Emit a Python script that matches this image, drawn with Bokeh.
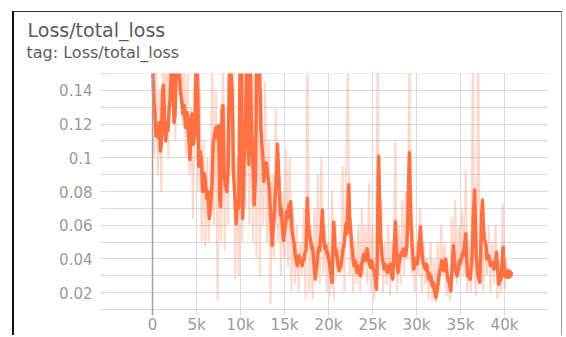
from bokeh.plotting import figure
from bokeh.models import Range1d, FixedTicker, NumeralTickFormatter, Span, Title
from bokeh.embed import file_html
from bokeh.resources import INLINE

# Smoothed total loss
steps = [
    0, 150, 250, 400, 500, 650, 750, 900, 1000, 1150,
    1250, 1400, 1500, 1650, 1750, 1900, 2000, 2150, 2300, 2450,
    2550, 2700, 2850, 3000, 3150, 3300, 3450, 3600, 3750, 3900,
    4000, 4150, 4250, 4400, 4500, 4650, 4800, 4950, 5100, 5250,
    5400, 5550, 5700, 5850, 6000, 6150, 6300, 6450, 6600, 6750,
    6900, 7050, 7200, 7350, 7500, 7650, 7750, 7900, 8000, 8150,
    8300, 8450, 8600, 8750, 8900, 9050, 9200, 9350, 9500, 9650,
    9800, 9950, 10100, 10250, 10400, 10550, 10700, 10850, 10950, 11100,
    11250, 11400, 11550, 11700, 11850, 12000, 12150, 12300, 12450, 12550,
    12650, 12800, 12950, 13100, 13250, 13400, 13500, 13600, 13700, 13800,
    13950, 14100, 14200, 14300, 14400, 14550, 14650, 14750, 14900, 15000,
    15100, 15250, 15350, 15500, 15600, 15700, 15800, 15900, 16000, 16100,
    16200, 16300, 16450, 16550, 16650, 16750, 16850, 17000, 17100, 17200,
    17300, 17450, 17550, 17600, 17700, 17800, 17900, 18000, 18100, 18200,
    18300, 18400, 18500, 18600, 18700, 18800, 18900, 19000, 19100, 19200,
    19300, 19400, 19500, 19600, 19700, 19800, 19900, 20000, 20100, 20200,
    20300, 20400, 20500, 20600, 20700, 20800, 20900, 21000, 21100, 21200,
    21300, 21400, 21500, 21600, 21700, 21800, 21900, 22000, 22100, 22200,
    22300, 22400, 22500, 22600, 22700, 22800, 22900, 23000, 23100, 23250,
    23350, 23450, 23550, 23650, 23750, 23850, 24000, 24100, 24200, 24300,
    24400, 24500, 24600, 24700, 24800, 24900, 25000, 25100, 25200, 25300,
    25450, 25550, 25650, 25700, 25800, 25900, 26000, 26100, 26200, 26300,
    26400, 26500, 26600, 26700, 26800, 26900, 27000, 27150, 27300, 27450,
    27600, 27700, 27800, 27900, 28000, 28100, 28200, 28300, 28400, 28500,
    28600, 28750, 28900, 29000, 29100, 29200, 29300, 29400, 29500, 29600,
    29700, 29800, 29900, 30000, 30100, 30200, 30300, 30450, 30550, 30650,
    30750, 30850, 31000, 31100, 31200, 31300, 31400, 31500, 31600, 31700,
    31800, 31900, 32000, 32100, 32200, 32300, 32400, 32500, 32550, 32650,
    32750, 32850, 32900, 33000, 33100, 33200, 33300, 33400, 33500, 33600,
    33700, 33800, 33900, 34000, 34100, 34200, 34300, 34400, 34500, 34600,
    34700, 34800, 34900, 35000, 35100, 35200, 35300, 35450, 35600, 35700,
    35800, 35900, 36000, 36100, 36250, 36350, 36450, 36600, 36700, 36800,
    36900, 37000, 37100, 37200, 37300, 37400, 37500, 37600, 37700, 37800,
    37900, 38000, 38100, 38200, 38300, 38400, 38500, 38600, 38700, 38800,
    38900, 39000, 39100, 39200, 39350, 39450, 39600, 39700, 39850, 39950,
    40000, 40100, 40200, 40300, 40400,
]
smooth = [
    0.158, 0.135, 0.128, 0.113, 0.118, 0.112, 0.121, 0.104, 0.108, 0.140,
    0.143, 0.118, 0.110, 0.121, 0.116, 0.130, 0.134, 0.156, 0.150, 0.121,
    0.125, 0.152, 0.158, 0.156, 0.140, 0.135, 0.126, 0.131, 0.118, 0.127,
    0.123, 0.110, 0.099, 0.124, 0.126, 0.108, 0.114, 0.160, 0.160, 0.095,
    0.104, 0.099, 0.080, 0.091, 0.087, 0.076, 0.080, 0.064, 0.070, 0.083,
    0.108, 0.114, 0.118, 0.112, 0.119, 0.075, 0.071, 0.128, 0.131, 0.090,
    0.083, 0.080, 0.094, 0.160, 0.152, 0.138, 0.092, 0.078, 0.061, 0.074,
    0.070, 0.160, 0.160, 0.064, 0.098, 0.112, 0.160, 0.120, 0.096, 0.160,
    0.118, 0.098, 0.072, 0.088, 0.160, 0.160, 0.160, 0.118, 0.106, 0.099,
    0.086, 0.094, 0.097, 0.090, 0.083, 0.069, 0.058, 0.048, 0.057, 0.063,
    0.078, 0.092, 0.108, 0.095, 0.081, 0.066, 0.070, 0.059, 0.051, 0.056,
    0.060, 0.068, 0.064, 0.072, 0.069, 0.074, 0.060, 0.055, 0.052, 0.049,
    0.043, 0.040, 0.036, 0.040, 0.042, 0.038, 0.039, 0.036, 0.040, 0.039,
    0.043, 0.045, 0.068, 0.076, 0.062, 0.055, 0.053, 0.050, 0.046, 0.047,
    0.040, 0.034, 0.028, 0.033, 0.037, 0.044, 0.047, 0.045, 0.052, 0.058,
    0.069, 0.057, 0.050, 0.046, 0.048, 0.043, 0.044, 0.040, 0.038, 0.034,
    0.030, 0.026, 0.045, 0.062, 0.050, 0.043, 0.045, 0.040, 0.036, 0.033,
    0.037, 0.035, 0.040, 0.044, 0.047, 0.050, 0.056, 0.061, 0.055, 0.070,
    0.084, 0.066, 0.058, 0.052, 0.045, 0.040, 0.036, 0.039, 0.038, 0.032,
    0.036, 0.034, 0.031, 0.030, 0.036, 0.039, 0.043, 0.041, 0.039, 0.044,
    0.046, 0.042, 0.038, 0.036, 0.035, 0.039, 0.037, 0.034, 0.033, 0.029,
    0.022, 0.040, 0.090, 0.101, 0.075, 0.055, 0.047, 0.041, 0.038, 0.034,
    0.037, 0.036, 0.033, 0.032, 0.036, 0.035, 0.037, 0.031, 0.028, 0.045,
    0.062, 0.048, 0.036, 0.032, 0.037, 0.040, 0.043, 0.044, 0.042, 0.046,
    0.044, 0.042, 0.048, 0.060, 0.085, 0.103, 0.078, 0.058, 0.048, 0.040,
    0.034, 0.038, 0.040, 0.038, 0.037, 0.042, 0.050, 0.059, 0.050, 0.042,
    0.038, 0.036, 0.034, 0.037, 0.036, 0.031, 0.028, 0.031, 0.030, 0.027,
    0.024, 0.026, 0.022, 0.020, 0.017, 0.020, 0.024, 0.028, 0.030, 0.033,
    0.034, 0.039, 0.037, 0.035, 0.033, 0.037, 0.040, 0.036, 0.030, 0.028,
    0.026, 0.024, 0.021, 0.030, 0.040, 0.048, 0.040, 0.035, 0.032, 0.030,
    0.033, 0.036, 0.039, 0.037, 0.040, 0.043, 0.042, 0.048, 0.055, 0.040,
    0.030, 0.032, 0.029, 0.028, 0.036, 0.045, 0.065, 0.081, 0.060, 0.042,
    0.034, 0.030, 0.028, 0.026, 0.045, 0.065, 0.075, 0.060, 0.052, 0.050,
    0.048, 0.040, 0.042, 0.042, 0.039, 0.036, 0.037, 0.038, 0.036, 0.034,
    0.038, 0.040, 0.044, 0.035, 0.025, 0.027, 0.028, 0.036, 0.047, 0.036,
    0.030, 0.031, 0.032, 0.031, 0.031,
]

# Raw total loss, logged every 200 steps
raw_steps = list(range(0, 40600, 200))
raw = [
    0.21, 0.10, 0.17, 0.09, 0.14, 0.08, 0.16, 0.12, 0.19, 0.10,
    0.22, 0.13, 0.18, 0.11, 0.20, 0.15, 0.19, 0.12, 0.16, 0.10,
    0.15, 0.09, 0.13, 0.064, 0.12, 0.18, 0.08, 0.14, 0.05, 0.11,
    0.047, 0.10, 0.05, 0.09, 0.16, 0.06, 0.14, 0.015, 0.12, 0.05,
    0.17, 0.045, 0.13, 0.06, 0.19, 0.09, 0.16, 0.028, 0.10, 0.03,
    0.20, 0.05, 0.17, 0.07, 0.19, 0.06, 0.16, 0.05, 0.18, 0.04,
    0.19, 0.03, 0.14, 0.06, 0.145, 0.05, 0.11, 0.013, 0.09, 0.04,
    0.13, 0.05, 0.09, 0.03, 0.08, 0.04, 0.105, 0.035, 0.10, 0.02,
    0.07, 0.025, 0.06, 0.02, 0.05, 0.03, 0.07, 0.016, 0.17, 0.02,
    0.06, 0.016, 0.07, 0.03, 0.09, 0.025, 0.10, 0.03, 0.06, 0.02,
    0.05, 0.018, 0.08, 0.016, 0.06, 0.03, 0.05, 0.03, 0.095, 0.02,
    0.09, 0.17, 0.03, 0.06, 0.02, 0.05, 0.025, 0.06, 0.02, 0.07,
    0.03, 0.06, 0.025, 0.085, 0.02, 0.06, 0.016, 0.045, 0.17, 0.03,
    0.075, 0.02, 0.05, 0.025, 0.06, 0.018, 0.05, 0.03, 0.11, 0.02,
    0.06, 0.025, 0.075, 0.03, 0.08, 0.04, 0.17, 0.03, 0.06, 0.02,
    0.05, 0.03, 0.07, 0.02, 0.05, 0.025, 0.04, 0.016, 0.05, 0.015,
    0.04, 0.014, 0.05, 0.02, 0.06, 0.03, 0.05, 0.018, 0.03, 0.015,
    0.065, 0.03, 0.075, 0.025, 0.06, 0.03, 0.07, 0.03, 0.093, 0.02,
    0.05, 0.02, 0.17, 0.03, 0.018, 0.17, 0.03, 0.06, 0.02, 0.055,
    0.03, 0.06, 0.02, 0.05, 0.025, 0.06, 0.016, 0.04, 0.02, 0.073,
    0.022, 0.04, 0.03,
]

x_ticks = [0, 5000, 10000, 15000, 20000, 25000, 30000, 35000, 40000]
x_minor = [-5000, 45000]
y_ticks = [0.02, 0.04, 0.06, 0.08, 0.1, 0.12, 0.14]
y_minor = [0.01, 0.03, 0.05, 0.07, 0.09, 0.11, 0.13, 0.15]

ORANGE = "#ff7043"
GRID = "#dcdcdc"
FONT = "DejaVu Sans"

# the plot area runs a few pixels below the 0.01 line so the vertical
# grid lines stick out under the chart like tick marks
p = figure(width=550, height=324, output_backend="svg", toolbar_location=None,
           x_range=Range1d(-5000, 45000), y_range=Range1d(0.00645, 0.15005),
           min_border_left=94, min_border_right=16, min_border_top=61,
           min_border_bottom=20)
p.outline_line_color = None
p.background_fill_color = "white"
p.border_fill_color = "white"
# card frame around the chart
p.styles = {
    "margin-left": "12px",
    "margin-top": "11px",
    "border-left": "2px solid #111111",
    "border-top": "1.5px solid #333333",
    "border-right": "1.5px solid #9a9a9a",
}

xt = FixedTicker(ticks=x_ticks, minor_ticks=x_minor)
yt = FixedTicker(ticks=y_ticks, minor_ticks=y_minor)
p.xaxis.ticker = xt
p.yaxis.ticker = yt
p.xgrid.ticker = xt
p.ygrid.ticker = yt
for g in (p.xgrid[0], p.ygrid[0]):
    g.grid_line_color = GRID
    g.grid_line_width = 1
    g.minor_grid_line_color = GRID
    g.minor_grid_line_width = 1

p.xaxis.formatter = NumeralTickFormatter(format="0a")
p.yaxis.formatter = NumeralTickFormatter(format="0.[00]")

for ax, out, standoff in ((p.xaxis[0], 0, 0), (p.yaxis[0], 8, 8)):
    ax.axis_line_color = None
    ax.major_tick_line_color = GRID
    ax.minor_tick_line_color = GRID
    ax.major_tick_in = 0
    ax.minor_tick_in = 0
    ax.major_tick_out = out
    ax.minor_tick_out = out
    ax.major_label_standoff = standoff
    ax.major_label_text_font = FONT
    ax.major_label_text_font_size = "15px"
    ax.major_label_text_color = "#9a9a9a"

# darker zero line
p.add_layout(Span(location=0, dimension="height", line_color="#a0a0a0", line_width=1.5))

p.line(raw_steps, raw, line_color=ORANGE, line_alpha=0.28, line_width=2)
p.line(steps, smooth, line_color=ORANGE, line_width=3.5, line_join="round")
p.scatter([steps[-1]], [smooth[-1]], size=9, fill_color=ORANGE, line_color=ORANGE)

# card header, stacked upward from the plot: spacer, tag line, title
p.add_layout(Title(text=" ", text_font_size="2px", standoff=8), "above")
p.add_layout(Title(text="tag: Loss/total_loss", align="left", offset=-82, standoff=0,
                   text_font=FONT, text_font_size="16px", text_font_style="normal",
                   text_color="#5e5e5e"), "above")
p.add_layout(Title(text="Loss/total_loss", align="left", offset=-81, standoff=0,
                   text_font=FONT, text_font_size="19px", text_font_style="normal",
                   text_color="#5a5a5a"), "above")

open("out.html", "w").write(file_html(p, INLINE))
